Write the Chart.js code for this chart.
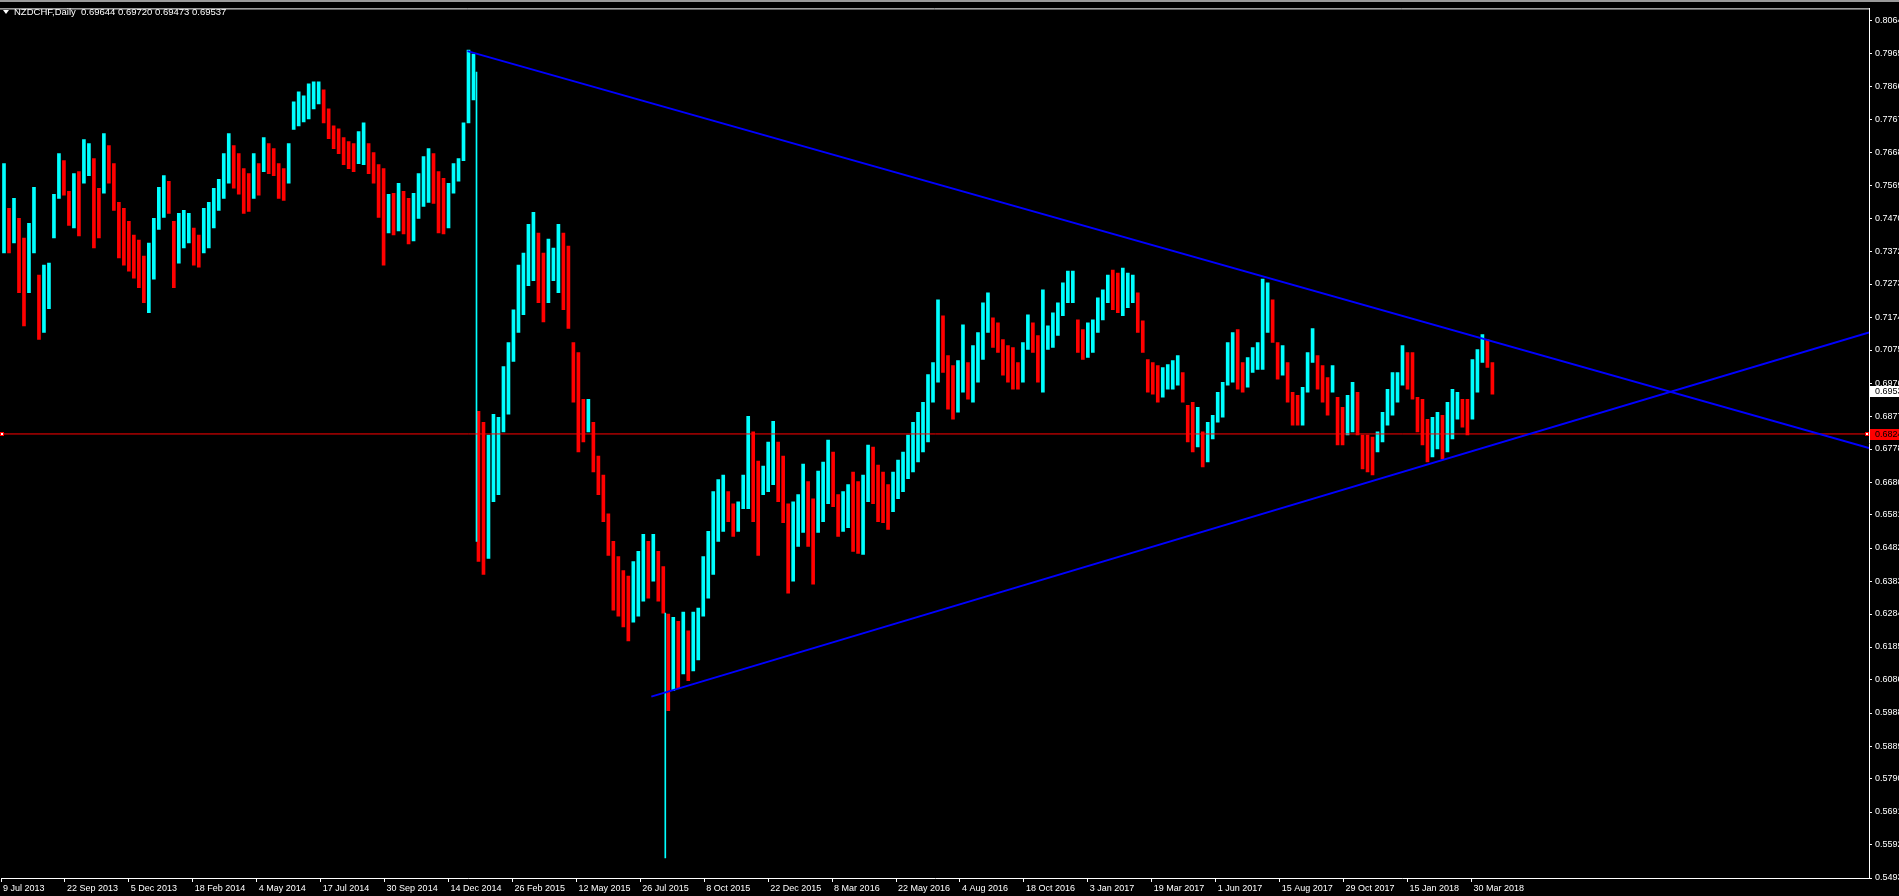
<!DOCTYPE html>
<html>
<head>
<meta charset="utf-8">
<title>NZDCHF,Daily</title>
<script src="https://cdn.jsdelivr.net/npm/chart.js@4.4.1/dist/chart.umd.min.js"></script>
<style>
  html, body { margin:0; padding:0; background:#000; overflow:hidden; }
  #wrap { position:relative; width:1899px; height:896px; }
</style>
</head>
<body>
<div id="wrap"><canvas id="chart"></canvas></div>
<script>
// header of the chart window
const symbolTitle = 'NZDCHF,Daily';
const lastBar = [0.69644, 0.69720, 0.69473, 0.69537]; // open high low close

// daily bars grouped by 5 (high / low of each group), oldest first
const binDays = 5;
const binStart = 2;
const binHighs = [
  0.7634,0.7500,0.7530,0.7470,0.7411,0.7455,0.7563,0.7300,0.7330,0.7336,
  0.7542,0.7664,0.7643,0.7551,0.7604,0.7610,0.7706,0.7694,0.7649,0.7560,
  0.7724,0.7688,0.7634,0.7518,0.7500,0.7461,0.7420,0.7405,0.7357,0.7396,
  0.7470,0.7563,0.7598,0.7581,0.7461,0.7485,0.7494,0.7485,0.7441,0.7420,
  0.7500,0.7518,0.7560,0.7587,0.7664,0.7724,0.7688,0.7664,0.7619,0.7604,
  0.7664,0.7634,0.7712,0.7694,0.7679,0.7634,0.7619,0.7694,0.7819,0.7849,
  0.7837,0.7873,0.7879,0.7879,0.7855,0.7798,0.7747,0.7738,0.7712,0.7700,
  0.7694,0.7730,0.7756,0.7694,0.7667,0.7631,0.7619,0.7542,0.7545,0.7575,
  0.7551,0.7530,0.7545,0.7604,0.7655,0.7679,0.7664,0.7610,0.7590,0.7575,
  0.7634,0.7649,0.7756,0.7974,0.7962,0.6892,0.6859,0.6821,0.6883,0.6874,
  0.7026,0.7098,0.7196,0.7330,0.7366,0.7452,0.7488,0.7426,0.7366,0.7408,
  0.7381,0.7452,0.7426,0.7387,0.7098,0.7068,0.6928,0.6928,0.6859,0.6758,
  0.6701,0.6585,0.6502,0.6457,0.6415,0.6398,0.6442,0.6472,0.6523,0.6502,
  0.6523,0.6472,0.6427,0.6284,0.6275,0.6263,0.6290,0.6234,0.6290,0.6302,
  0.6457,0.6532,0.6651,0.6687,0.6701,0.6651,0.6615,0.6621,0.6701,0.6877,
  0.6830,0.6743,0.6728,0.6800,0.6862,0.6800,0.6758,0.6615,0.6621,0.6642,
  0.6734,0.6681,0.6630,0.6713,0.6740,0.6806,0.6770,0.6642,0.6651,0.6672,
  0.6710,0.6681,0.6701,0.6791,0.6785,0.6731,0.6710,0.6672,0.6710,0.6746,
  0.6770,0.6821,0.6859,0.6889,0.6919,0.7002,0.7038,0.7226,0.7178,0.7059,
  0.7029,0.7044,0.7151,0.7038,0.7089,0.7128,0.7217,0.7247,0.7172,0.7157,
  0.7107,0.7089,0.7083,0.7038,0.7098,0.7181,0.7157,0.7119,0.7256,0.7148,
  0.7187,0.7217,0.7277,0.7312,0.7312,0.7166,0.7137,0.7157,0.7166,0.7232,
  0.7256,0.7300,0.7315,0.7306,0.7321,0.7306,0.7300,0.7247,0.7163,0.7047,
  0.7038,0.7029,0.7023,0.7032,0.7044,0.7059,0.7008,0.6910,0.6919,0.6904,
  0.6830,0.6859,0.6880,0.6949,0.6979,0.7098,0.7128,0.7137,0.7038,0.7053,
  0.7083,0.7098,0.7288,0.7277,0.7226,0.7098,0.7089,0.7038,0.6949,0.6940,
  0.6964,0.7068,0.7140,0.7059,0.7029,0.6993,0.7029,0.6934,0.6904,0.6940,
  0.6979,0.6949,0.6821,0.6821,0.6815,0.6830,0.6889,0.6958,0.7008,0.7008,
  0.7089,0.7068,0.7068,0.6934,0.6928,0.6868,0.6874,0.6889,0.6880,0.6919,
  0.6958,0.6949,0.6928,0.6928,0.7047,0.7077,0.7122,0.7107,0.7038
];
const binLows = [
  0.7366,0.7366,0.7396,0.7247,0.7148,0.7247,0.7366,0.7107,0.7128,0.7199,
  0.7411,0.7530,0.7539,0.7449,0.7441,0.7417,0.7575,0.7598,0.7381,0.7411,
  0.7545,0.7575,0.7494,0.7351,0.7330,0.7312,0.7291,0.7262,0.7217,0.7187,
  0.7288,0.7437,0.7473,0.7485,0.7262,0.7336,0.7381,0.7396,0.7330,0.7324,
  0.7366,0.7381,0.7441,0.7494,0.7530,0.7575,0.7560,0.7542,0.7485,0.7491,
  0.7530,0.7539,0.7610,0.7604,0.7598,0.7530,0.7524,0.7575,0.7736,0.7747,
  0.7759,0.7768,0.7798,0.7813,0.7756,0.7709,0.7679,0.7664,0.7631,0.7619,
  0.7610,0.7634,0.7631,0.7604,0.7575,0.7473,0.7330,0.7426,0.7420,0.7432,
  0.7423,0.7393,0.7402,0.7470,0.7506,0.7518,0.7515,0.7426,0.7423,0.7441,
  0.7545,0.7581,0.7643,0.7756,0.7825,0.6442,0.6403,0.6451,0.6621,0.6642,
  0.6830,0.6883,0.7041,0.7128,0.7181,0.7268,0.7283,0.7217,0.7160,0.7217,
  0.7283,0.7247,0.7196,0.7140,0.6919,0.6770,0.6800,0.6830,0.6710,0.6642,
  0.6561,0.6460,0.6296,0.6278,0.6246,0.6204,0.6260,0.6278,0.6323,0.6332,
  0.6383,0.6323,0.6287,0.5995,0.6055,0.6061,0.6105,0.6085,0.6114,0.6147,
  0.6278,0.6332,0.6403,0.6502,0.6532,0.6561,0.6517,0.6532,0.6600,0.6600,
  0.6561,0.6460,0.6642,0.6651,0.6672,0.6621,0.6558,0.6347,0.6383,0.6487,
  0.6529,0.6487,0.6374,0.6529,0.6561,0.6615,0.6606,0.6517,0.6532,0.6543,
  0.6472,0.6466,0.6463,0.6621,0.6615,0.6561,0.6558,0.6538,0.6591,0.6630,
  0.6651,0.6690,0.6710,0.6740,0.6770,0.6800,0.6919,0.6979,0.7008,0.6898,
  0.6868,0.6889,0.6949,0.6928,0.6919,0.6979,0.7047,0.7128,0.7083,0.7068,
  0.7000,0.6979,0.6958,0.6958,0.6979,0.7077,0.7068,0.6979,0.6949,0.7077,
  0.7083,0.7119,0.7178,0.7217,0.7217,0.7068,0.7047,0.7053,0.7068,0.7128,
  0.7166,0.7217,0.7196,0.7187,0.7178,0.7202,0.7217,0.7128,0.7068,0.6949,
  0.6943,0.6919,0.6934,0.6958,0.6958,0.6970,0.6919,0.6800,0.6770,0.6785,
  0.6725,0.6740,0.6809,0.6859,0.6874,0.6970,0.6979,0.6958,0.6949,0.6964,
  0.7008,0.7017,0.7017,0.7128,0.7098,0.6988,0.7000,0.6919,0.6850,0.6850,
  0.6850,0.6949,0.7038,0.6958,0.6919,0.6880,0.6949,0.6791,0.6791,0.6821,
  0.6830,0.6821,0.6719,0.6710,0.6701,0.6770,0.6800,0.6850,0.6880,0.6919,
  0.6970,0.6958,0.6928,0.6830,0.6791,0.6740,0.6755,0.6779,0.6749,0.6770,
  0.6809,0.6868,0.6844,0.6821,0.6868,0.6949,0.7038,0.7023,0.6943
];

// single-day wicks (SNB day Jan 2015, flash crash Aug 2015), bar index
const spikeIdx = [475, 664];
const spikeHighs = [0.7908, 0.6287];
const spikeLows = [0.6502, 0.5554];

// trend lines (bar index, price)
const upperTrendX = [466, 1869];
const upperTrendY = [0.7971, 0.6782];
const lowerTrendX = [650, 1869];
const lowerTrendY = [0.6037, 0.7128];

// horizontal level
const levelPrice = 0.68240;

// axes
const priceTicks = [0.80640,0.79652,0.78663,0.77675,0.76686,0.75697,0.74709,0.73720,0.72732,
  0.71743,0.70755,0.69766,0.68777,0.67789,0.66800,0.65812,0.64823,0.63834,0.62846,0.61857,
  0.60869,0.59880,0.58891,0.57903,0.56914,0.55926,0.54937];
const dateTickIdx = [-1,63,127,191,255,319,383,447,511,575,639,703,767,831,895,959,1023,1087,1151,1215,1279,1343,1407,1471];
const dateTickLabels = ['9 Jul 2013','22 Sep 2013','5 Dec 2013','18 Feb 2014','4 May 2014','17 Jul 2014',
  '30 Sep 2014','14 Dec 2014','26 Feb 2015','12 May 2015','26 Jul 2015','8 Oct 2015','22 Dec 2015',
  '8 Mar 2016','22 May 2016','4 Aug 2016','18 Oct 2016','3 Jan 2017','19 Mar 2017','1 Jun 2017',
  '15 Aug 2017','29 Oct 2017','15 Jan 2018','30 Mar 2018'];

const upColor = '#00ffff', downColor = '#ff0000';
const FONT = "'Liberation Sans', Arial, sans-serif";

const candleColors = binHighs.map((h, i) => {
  if (i === 0) return upColor;
  const mid = (h + binLows[i]) / 2, prev = (binHighs[i-1] + binLows[i-1]) / 2;
  return mid >= prev ? upColor : downColor;
});

const terminal = {
  id: 'terminal',
  beforeDraw(chart){
    const c = chart.ctx, a = chart.chartArea;
    c.save();
    c.fillStyle = '#000'; c.fillRect(0, 0, chart.width, chart.height);
    c.fillStyle = '#9a9a9a'; c.fillRect(0, 0, chart.width, 2);
    c.strokeStyle = '#fff'; c.lineWidth = 1;
    c.beginPath(); c.moveTo(0, a.top + 0.5); c.lineTo(a.right, a.top + 0.5); c.stroke();
    c.restore();
  },
  afterDraw(chart){
    const c = chart.ctx, a = chart.chartArea, y = chart.scales.y;
    c.save();
    // title
    c.fillStyle = '#fff';
    c.beginPath(); c.moveTo(3, 10); c.lineTo(9, 10); c.lineTo(6, 14); c.closePath(); c.fill();
    c.font = '9.5px ' + FONT; c.textBaseline = 'middle'; c.textAlign = 'left';
    c.fillText(symbolTitle + '  ' + lastBar.map(v => v.toFixed(5)).join(' '), 14, 12);
    // level markers
    const ly = Math.round(y.getPixelForValue(levelPrice));
    c.fillStyle = '#fff'; c.strokeStyle = '#ff0000';
    [0, a.right - 4].forEach(x => { c.fillRect(x, ly - 2, 4, 4); c.strokeRect(x + 0.5, ly - 1.5, 3, 3); });
    c.font = '9px ' + FONT;
    c.fillStyle = '#ff0000'; c.fillRect(a.right + 1, ly - 5, 30, 11);
    c.fillStyle = '#000'; c.fillText(levelPrice.toFixed(5), a.right + 6, ly + 0.5);
    // current price
    const cy = Math.round(y.getPixelForValue(lastBar[3]));
    c.fillStyle = '#fff'; c.fillRect(a.right + 1, cy - 5, 30, 11);
    c.fillStyle = '#000'; c.fillText(lastBar[3].toFixed(5), a.right + 6, cy + 0.5);
    c.restore();
  }
};

new Chart(document.getElementById('chart'), {
  type: 'bar',
  data: { datasets: [
    { type:'line', data: upperTrendX.map((x, i) => ({ x, y: upperTrendY[i] })), borderColor:'#0000ff', borderWidth:2, pointRadius:0, order:0 },
    { type:'line', data: lowerTrendX.map((x, i) => ({ x, y: lowerTrendY[i] })), borderColor:'#0000ff', borderWidth:2, pointRadius:0, order:0 },
    { type:'line', data: [{ x:0, y:levelPrice }, { x:1869, y:levelPrice }], borderColor:'#ff0000', borderWidth:1, pointRadius:0, order:1 },
    { type:'bar', data: spikeIdx.map((x, i) => ({ x, y:[spikeLows[i], spikeHighs[i]] })), backgroundColor: upColor, barThickness:1, grouped:false, order:2 },
    { type:'bar', data: binHighs.map((h, i) => ({ x: binStart + i * binDays, y:[binLows[i], h] })), backgroundColor: candleColors, barThickness:3, grouped:false, order:3 },
  ]},
  options: {
    responsive:true, maintainAspectRatio:false, animation:false, devicePixelRatio:1,
    layout:{ padding:{ top:4, left:0, right:0, bottom:0 }, autoPadding:false },
    plugins:{ legend:{ display:false }, tooltip:{ enabled:false } },
    scales:{
      x:{ type:'linear', min:0, max:1869, offset:false,
        grid:{ display:true, drawOnChartArea:false, drawTicks:true, tickLength:4, color:'#fff', offset:false },
        border:{ display:true, color:'#fff', width:1 },
        afterBuildTicks: s => { s.ticks = dateTickIdx.map(v => ({ value:v })); },
        afterFit: s => { s.height = 18; },
        ticks:{ autoSkip:false, maxRotation:0, align:'start', labelOffset:2, padding:1, color:'#fff',
          font:{ family:FONT, size:9 }, callback:(v, i) => dateTickLabels[i] }
      },
      y:{ type:'linear', position:'right', min:0.54937, max:0.80989,
        grid:{ display:true, drawOnChartArea:false, drawTicks:true, tickLength:3, color:'#fff' },
        border:{ display:true, color:'#fff', width:1 },
        afterBuildTicks: s => { s.ticks = priceTicks.map(v => ({ value:v })); },
        afterFit: s => { s.width = 30; },
        ticks:{ autoSkip:false, padding:3, color:'#fff', font:{ family:FONT, size:9 },
          callback:(v, i) => priceTicks[i].toFixed(5) }
      }
    }
  },
  plugins:[terminal]
});
</script>
</body>
</html>
